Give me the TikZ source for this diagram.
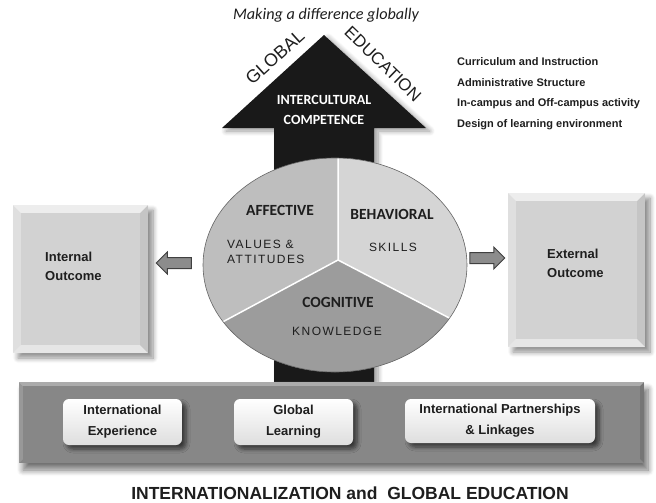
\documentclass[tikz,border=0pt]{standalone}
\usepackage{fontspec}
\setmainfont{Liberation Sans}
\newfontfamily\carl{Carlito}
\newfontfamily\spaced{Liberation Sans}[LetterSpace=12]
\usetikzlibrary{shapes.geometric,shapes.arrows,shadows.blur}
\definecolor{affectFill}{HTML}{BEBEBE}
\definecolor{behavFill}{HTML}{D5D5D5}
\definecolor{cognFill}{HTML}{9C9C9C}
\definecolor{outFill}{HTML}{D2D2D2}
\definecolor{trayFill}{HTML}{878787}
\definecolor{inkGray}{HTML}{1E1E1E}
\tikzstyle{outcomeBox}=[rectangle, inner sep=0, fill=outFill, blur shadow={shadow xshift=5pt, shadow yshift=-5pt, shadow blur steps=8, shadow blur radius=5pt, shadow opacity=45}]
\tikzstyle{trayBox}=[rectangle, inner sep=0, fill=trayFill, blur shadow={shadow xshift=4pt, shadow yshift=-7pt, shadow blur steps=8, shadow blur radius=6pt, shadow opacity=55}]
\tikzstyle{itemBox}=[rectangle, rounded corners=6, inner sep=0, minimum width=119, minimum height=46, top color=white, bottom color=black!13, align=center, text=inkGray, font=\bfseries\fontsize{13}{21}\selectfont, blur shadow={shadow xshift=4pt, shadow yshift=-4pt, shadow blur steps=6, shadow blur radius=4pt, shadow opacity=60}]
\tikzstyle{sideArrow}=[single arrow, inner sep=0, minimum height=35, single arrow head extend=5.5, single arrow head indent=0, fill=black!45, draw=black!75, line width=1]

\begin{document}
\begin{tikzpicture}[x=1pt, y=-1pt]
\tikzstyle{pieText}=[font=\carl\bfseries\fontsize{15.5}{18}\selectfont, text=inkGray]
\tikzstyle{pieSub}=[font=\spaced\fontsize{12}{15}\selectfont, text=inkGray, align=left]
\tikzstyle{outText}=[anchor=west, inner sep=0, align=left, text=inkGray, font=\bfseries\fontsize{13}{19}\selectfont]
\tikzstyle{listText}=[anchor=west, inner sep=0, text=inkGray, font=\bfseries\fontsize{11}{13}\selectfont]
\useasboundingbox (0,0) rectangle (656,503);

\node[font=\carl\itshape\fontsize{16.2}{18}\selectfont, text=inkGray] (motto) at (326,15) {Making a difference globally};

\fill[black!90, blur shadow={shadow xshift=4pt, shadow yshift=-3pt, shadow blur steps=8, shadow blur radius=5pt}] (274,383) -- (274,128) -- (222,128) -- (324,35) -- (426,128) -- (374,128) -- (374,383) -- cycle;
\node[rotate=42, inner sep=0, text=inkGray, font=\fontsize{18}{18}\selectfont] (globWord) at (275,57) {GLOBAL};
\node[rotate=-44, inner sep=0, text=inkGray, font=\fontsize{17}{17}\selectfont] (eduWord) at (383,64) {EDUCATION};
\node[white, align=center, font=\carl\bfseries\fontsize{14}{20}\selectfont] (icc) at (324,110) {INTERCULTURAL\\COMPETENCE};

\node[listText] (curr) at (457,62) {Curriculum and Instruction};
\node[listText] (admin) at (457,83) {Administrative Structure};
\node[listText] (campus) at (457,104) {In-campus and Off-campus activity};
\node[listText] (design) at (457,125) {Design of learning environment};

\node[ellipse, minimum width=264, minimum height=214, inner sep=0, fill=affectFill] (pie) at (335,265) {};
\coordinate (meet) at (338,260);
\begin{scope}
\clip (pie.center) ellipse [x radius=132, y radius=107];
\fill[behavFill] (meet) -- (338,140) -- (480,140) -- (480,334) -- cycle;
\fill[cognFill] (meet) -- (480,334) -- (480,390) -- (190,390) -- (190,339.5) -- cycle;
\draw[white, line width=1.5] (338,140) -- (meet) -- (190,339.5);
\draw[white, line width=1.5] (meet) -- (480,334);
\end{scope}
\draw[black!60, line width=0.6] (pie.center) ellipse [x radius=132, y radius=107];

\node[pieText] (affect) at (280,210) {AFFECTIVE};
\node[pieText] (behav) at (392,214) {BEHAVIORAL};
\node[pieSub, anchor=west, inner sep=0] (values) at (227,251.5) {VALUES \&\\ATTITUDES};
\node[pieSub] (skills) at (393,247) {SKILLS};
\node[pieText] (cogn) at (338,302) {COGNITIVE};
\node[pieSub] (know) at (337,331) {KNOWLEDGE};

\node[outcomeBox, minimum width=135, minimum height=148] (intOut) at (80.5,279) {};
\node[outcomeBox, minimum width=137, minimum height=154] (extOut) at (576.5,270) {};
\foreach \b in {intOut,extOut}{
  \fill[white, opacity=.6] (\b.north west) -- (\b.north east) -- ([shift={(-8,8)}]\b.north east) -- ([shift={(8,8)}]\b.north west) -- cycle;
  \fill[white, opacity=.3] (\b.north west) -- ([shift={(8,8)}]\b.north west) -- ([shift={(8,-8)}]\b.south west) -- (\b.south west) -- cycle;
  \fill[white, opacity=.45] (\b.south west) -- ([shift={(8,-8)}]\b.south west) -- ([shift={(-8,-8)}]\b.south east) -- (\b.south east) -- cycle;
  \fill[black, opacity=.06] (\b.north east) -- (\b.south east) -- ([shift={(-8,-8)}]\b.south east) -- ([shift={(-8,8)}]\b.north east) -- cycle;
}
\node[outText] (intLbl) at (45,266.5) {Internal\\Outcome};
\node[outText] (extLbl) at (547,263.5) {External\\Outcome};

\node[sideArrow, shape border rotate=180] (toInt) at (176.5,263) {\rule{0pt}{10pt}};
\node[sideArrow] (toExt) at (484.5,258) {\rule{0pt}{10pt}};

\node[trayBox, minimum width=625, minimum height=81] (tray) at (331.5,422.5) {};
\fill[white, opacity=.3] (tray.north west) -- (tray.north east) -- ([shift={(-4,4)}]tray.north east) -- ([shift={(4,4)}]tray.north west) -- cycle;
\fill[white, opacity=.15] (tray.north west) -- ([shift={(4,4)}]tray.north west) -- ([shift={(4,-4)}]tray.south west) -- (tray.south west) -- cycle;
\fill[black, opacity=.12] (tray.north east) -- (tray.south east) -- ([shift={(-4,-4)}]tray.south east) -- ([shift={(-4,4)}]tray.north east) -- cycle;

\node[itemBox] (intExp) at (122.5,422) {International\\Experience};
\node[itemBox] (globLearn) at (293.5,422) {Global\\Learning};
\node[itemBox, minimum width=190, minimum height=44] (partners) at (500,421) {International Partnerships\\\& Linkages};

\node[inner sep=0, text=inkGray, font=\bfseries\fontsize{17.5}{18}\selectfont] (title) at (350,493.5) {INTERNATIONALIZATION and\ \ GLOBAL EDUCATION};
\end{tikzpicture}
\end{document}
